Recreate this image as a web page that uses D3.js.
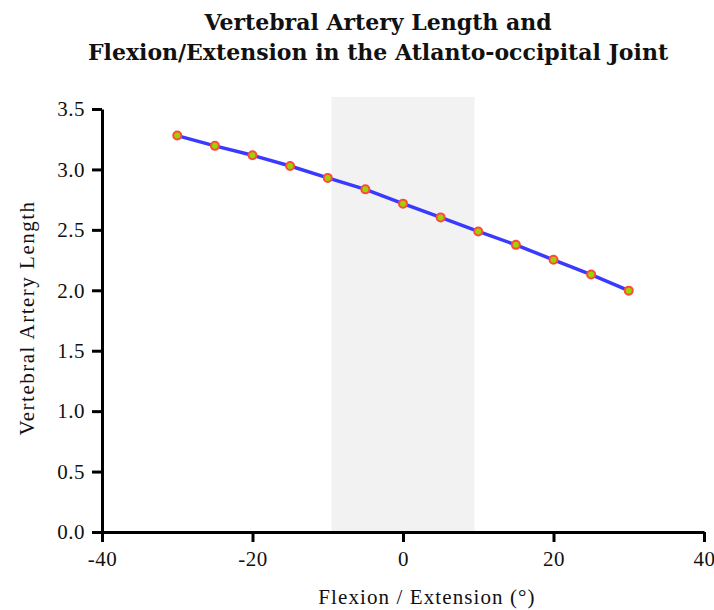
<!DOCTYPE html>
<html>
  <head>
    <meta charset="utf-8" />
    <title>Vertebral Artery Length and Flexion/Extension</title>
    <style>
      body {
        margin: 0;
        background: #fff;
      }
    </style>
  </head>
  <body>
    <svg class="canvas"></svg>
    <script src="https://cdn.jsdelivr.net/npm/d3@7"></script>
    <script>
      const angles = [-30, -25, -20, -15, -10, -5, 0, 5, 10, 15, 20, 25, 30];
      const lengths = [3.28, 3.195, 3.117, 3.028, 2.93, 2.835, 2.717, 2.603, 2.487, 2.376, 2.252, 2.13, 1.997];
      const bandX = [-9.5, 9.5];
      const bandY = [0, 3.6];
      const xTicks = [-40, -20, 0, 20, 40];
      const yTicks = [0, 0.5, 1, 1.5, 2, 2.5, 3, 3.5];

      const width = 714,
        height = 610;
      const serif = "'Liberation Serif', serif";

      const svg = d3.select(".canvas").attr("width", width).attr("height", height);

      const x = d3.scaleLinear().domain([-40, 40]).range([102, 704]);
      const y = d3.scaleLinear().domain([0, 3.5]).range([532, 109]);

      // shaded band
      svg
        .append("rect")
        .attr("x", x(bandX[0]))
        .attr("y", y(bandY[1]))
        .attr("width", x(bandX[1]) - x(bandX[0]))
        .attr("height", y(bandY[0]) - y(bandY[1]))
        .style("fill", "#f2f2f2");

      //----------------axes----------------
      const xAxis = svg
        .append("g")
        .attr("transform", `translate(0,${y(0)})`)
        .call(
          d3
            .axisBottom(x)
            .tickValues(xTicks)
            .tickSize(10)
            .tickSizeOuter(0)
            .tickPadding(9)
            .tickFormat((d) => String(d))
        );

      const yAxis = svg
        .append("g")
        .attr("transform", `translate(${x(-40)},0)`)
        .call(
          d3
            .axisLeft(y)
            .tickValues(yTicks)
            .tickSize(10)
            .tickSizeOuter(0)
            .tickPadding(7)
            .tickFormat(d3.format(".1f"))
        );

      [xAxis, yAxis].forEach((g) => {
        g.select(".domain").attr("stroke", "#000").attr("stroke-width", 3);
        g.selectAll(".tick line").attr("stroke", "#000").attr("stroke-width", 3);
        g.selectAll(".tick text")
          .style("font-family", serif)
          .style("font-size", "21px")
          .style("letter-spacing", "0.5px")
          .style("fill", "#111");
      });

      //----------------line + points----------------
      const data = angles.map((a, i) => ({ a, v: lengths[i] }));

      svg
        .append("path")
        .datum(data)
        .attr(
          "d",
          d3
            .line()
            .x((d) => x(d.a))
            .y((d) => y(d.v))
        )
        .style("fill", "none")
        .style("stroke", "#3a3aff")
        .style("stroke-width", 3.5);

      svg
        .selectAll("circle.pt")
        .data(data)
        .enter()
        .append("circle")
        .attr("class", "pt")
        .attr("cx", (d) => x(d.a))
        .attr("cy", (d) => y(d.v))
        .attr("r", 4)
        .style("fill", "#9ad400")
        .style("stroke", "#ff4a3a")
        .style("stroke-width", 2);

      //----------------text----------------
      const title = svg
        .append("text")
        .attr("text-anchor", "middle")
        .style("font-family", "'DejaVu Serif', serif")
        .style("font-weight", "bold")
        .style("font-size", "22px")
        .style("fill", "#111");
      title.append("tspan").attr("x", 378).attr("y", 30).text("Vertebral Artery Length and");
      title.append("tspan").attr("x", 378).attr("y", 60).text("Flexion/Extension in the Atlanto-occipital Joint");

      svg
        .append("text")
        .attr("x", 427)
        .attr("y", 604)
        .attr("text-anchor", "middle")
        .style("font-family", serif)
        .style("font-size", "21px")
        .style("letter-spacing", "1.1px")
        .style("fill", "#111")
        .text("Flexion / Extension (°)");

      svg
        .append("text")
        .attr("transform", "translate(34,318) rotate(-90)")
        .attr("text-anchor", "middle")
        .style("font-family", serif)
        .style("font-size", "21px")
        .style("letter-spacing", "1.5px")
        .style("fill", "#111")
        .text("Vertebral Artery Length");
    </script>
  </body>
</html>
